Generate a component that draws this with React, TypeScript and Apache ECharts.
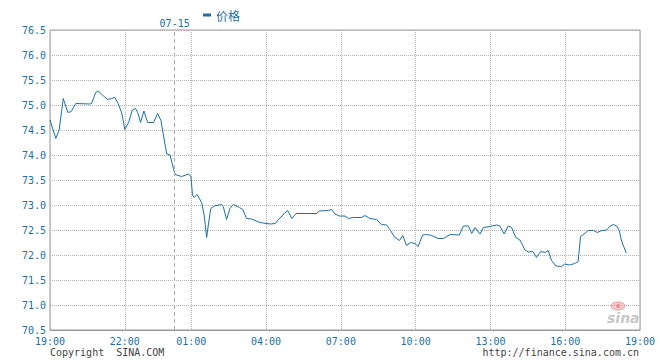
import React, { useEffect, useRef } from 'react';
import * as echarts from 'echarts';

// Price samples (time of day, price). Times from 19:00 belong to 07-14, earlier ones to 07-15.
const times = [
  '19:00', '19:14', '19:22', '19:32', '19:43', '19:51', '20:02', '20:36', '20:40', '20:50',
  '20:56', '21:06', '21:19', '21:28', '21:36', '21:44', '21:53', '22:00', '22:10', '22:18',
  '22:26', '22:32', '22:38', '22:46', '22:55', '23:09', '23:19', '23:27', '23:35', '23:41',
  '23:49', '23:57', '00:01', '00:17', '00:53', '00:59', '01:03', '01:07', '01:14', '01:25',
  '01:31', '01:37', '01:41', '01:47', '01:55', '02:13', '02:17', '02:25', '02:33', '02:41',
  '02:56', '03:04', '03:13', '03:25', '03:45', '04:10', '04:22', '04:29', '04:46', '04:52',
  '05:02', '05:12', '06:02', '06:08', '06:30', '06:38', '06:46', '06:56', '07:10', '07:18',
  '07:30', '07:50', '07:58', '08:10', '08:26', '08:38', '08:50', '08:58', '09:10', '09:21',
  '09:29', '09:38', '09:48', '09:58', '10:06', '10:17', '10:27', '10:39', '10:54', '11:07',
  '11:23', '11:45', '11:55', '12:07', '12:15', '12:23', '12:35', '12:43', '12:59', '13:15',
  '13:23', '13:33', '13:43', '13:51', '14:01', '14:11', '14:23', '14:31', '14:42', '14:51',
  '15:01', '15:11', '15:19', '15:27', '15:38', '15:51', '15:59', '16:10', '16:23', '16:31',
  '16:37', '16:45', '16:55', '17:08', '17:17', '17:28', '17:40', '17:48', '17:56', '18:04',
  '18:10', '18:16', '18:27',
];

const prices = [
  74.70, 74.33, 74.50, 75.13, 74.85, 74.87, 75.03, 75.02, 75.03, 75.25,
  75.28, 75.20, 75.11, 75.13, 75.15, 75.03, 74.83, 74.51, 74.67, 74.90,
  74.93, 74.83, 74.65, 74.88, 74.65, 74.65, 74.83, 74.69, 74.30, 74.02,
  74.00, 73.73, 73.61, 73.57, 73.62, 73.58, 73.20, 73.15, 73.21, 73.05,
  72.80, 72.35, 72.60, 72.93, 72.98, 73.01, 72.97, 72.71, 72.93, 73.01,
  72.95, 72.91, 72.73, 72.72, 72.65, 72.62, 72.63, 72.70, 72.85, 72.89,
  72.73, 72.83, 72.83, 72.88, 72.89, 72.91, 72.82, 72.78, 72.78, 72.73,
  72.75, 72.75, 72.79, 72.73, 72.71, 72.61, 72.60, 72.51, 72.35, 72.29,
  72.39, 72.19, 72.25, 72.23, 72.17, 72.40, 72.41, 72.39, 72.33, 72.33,
  72.41, 72.40, 72.58, 72.58, 72.43, 72.55, 72.42, 72.55, 72.57, 72.60,
  72.58, 72.42, 72.58, 72.55, 72.35, 72.30, 72.10, 72.06, 72.07, 71.95,
  72.07, 72.05, 72.09, 71.89, 71.78, 71.77, 71.82, 71.80, 71.83, 71.87,
  72.37, 72.42, 72.49, 72.49, 72.45, 72.49, 72.50, 72.58, 72.61, 72.58,
  72.49, 72.27, 72.04,
];

const xTickLabels = ['07-14 19:00', '07-14 22:00', '07-15 01:00', '07-15 04:00', '07-15 07:00',
  '07-15 10:00', '07-15 13:00', '07-15 16:00', '07-15 19:00'];
const day1 = '07-14';
const day2 = '07-15';
const breakStart = '00:30'; // session break, not on the axis
const breakEnd = '00:50';
const seriesName = '价格';
const yMin = 70.5;
const yMax = 76.5;
const yStep = 0.5;

const pad = (n: number) => (n < 10 ? '0' + n : '' + n);

function buildCategories(): string[] {
  const out: string[] = [];
  for (let m = 19 * 60; m < 24 * 60; m++) out.push(day1 + ' ' + pad(Math.floor(m / 60)) + ':' + pad(m % 60));
  for (let m = 0; m <= 19 * 60; m++) {
    const t = pad(Math.floor(m / 60)) + ':' + pad(m % 60);
    if (t >= breakStart && t < breakEnd) continue;
    out.push(day2 + ' ' + t);
  }
  return out;
}

const keyOf = (t: string) => (t >= '19:00' ? day1 : day2) + ' ' + t;

const BLUE = '#1d6fa8';
const MONO = 'DejaVu Sans Mono, monospace';

export default function App() {
  const ref = useRef<HTMLDivElement>(null);
  useEffect(() => {
    if (!ref.current) return;
    const chart = echarts.init(ref.current, undefined, { renderer: 'svg' });
    const categories = buildCategories();
    const tickSet = new Set(xTickLabels);
    const showTick = (_i: number, v: string) => tickSet.has(v);
    chart.setOption({
      animation: false,
      backgroundColor: '#fff',
      grid: { left: 50, right: 20, top: 30, bottom: 30, show: true, borderColor: '#9a9a9a', borderWidth: 1 },
      legend: {
        data: [seriesName],
        left: 198,
        top: 4,
        icon: 'rect',
        itemWidth: 8,
        itemHeight: 3,
        textStyle: { color: BLUE, fontSize: 12, fontFamily: 'Noto Sans CJK SC' },
      },
      xAxis: {
        type: 'category',
        data: categories,
        boundaryGap: false,
        axisLine: { show: true, lineStyle: { color: '#9a9a9a', width: 1 } },
        axisTick: { show: false },
        axisLabel: {
          interval: showTick,
          formatter: (v: string) => v.slice(6),
          color: BLUE,
          fontFamily: MONO,
          fontSize: 10,
          margin: 6,
        },
        splitLine: { show: true, interval: showTick, lineStyle: { color: '#b4b4b4', type: [1, 1], width: 1 } },
      },
      yAxis: {
        type: 'value',
        min: yMin,
        max: yMax,
        interval: yStep,
        axisLine: { show: false },
        axisTick: { show: false },
        axisLabel: {
          formatter: (v: number) => v.toFixed(1),
          color: BLUE,
          fontFamily: MONO,
          fontSize: 10,
          margin: 4,
        },
        splitLine: { show: true, lineStyle: { color: '#b4b4b4', type: [1, 1], width: 1 } },
      },
      series: [
        {
          name: seriesName,
          type: 'line',
          data: times.map((t, i) => [keyOf(t), prices[i]]),
          showSymbol: false,
          symbol: 'none',
          color: BLUE,
          lineStyle: { color: BLUE, width: 1 },
          markLine: {
            silent: true,
            symbol: 'none',
            lineStyle: { color: '#aaaaaa', type: [4, 3], width: 1 },
            label: {
              show: true,
              position: 'end',
              distance: 2,
              formatter: day2,
              color: BLUE,
              fontFamily: MONO,
              fontSize: 10,
            },
            data: [{ xAxis: day2 + ' 00:00' }],
          },
        },
      ],
      graphic: [
        {
          type: 'text',
          left: 50,
          top: 347,
          style: { text: 'Copyright  SINA.COM', fill: '#444', font: '10px DejaVu Sans Mono' },
        },
        {
          type: 'text',
          right: 21,
          top: 347,
          style: { text: 'http://finance.sina.com.cn', fill: '#444', font: '10px DejaVu Sans Mono' },
        },
        {
          type: 'ellipse',
          shape: { cx: 618, cy: 306, rx: 7, ry: 4 },
          style: { fill: '#f6caca', stroke: '#eba0a0', lineWidth: 1 },
          silent: true,
        },
        {
          type: 'circle',
          shape: { cx: 618, cy: 306, r: 2 },
          style: { fill: '#e88a8a' },
          silent: true,
        },
        {
          type: 'text',
          x: 607,
          y: 311,
          style: { text: 'sina', fill: '#c8c8c8', font: 'italic bold 14px DejaVu Sans' },
          silent: true,
        },
      ],
    });
    return () => chart.dispose();
  }, []);
  return <div ref={ref} style={{ position: 'absolute', left: 0, top: 0, width: 660, height: 360 }} />;
}
